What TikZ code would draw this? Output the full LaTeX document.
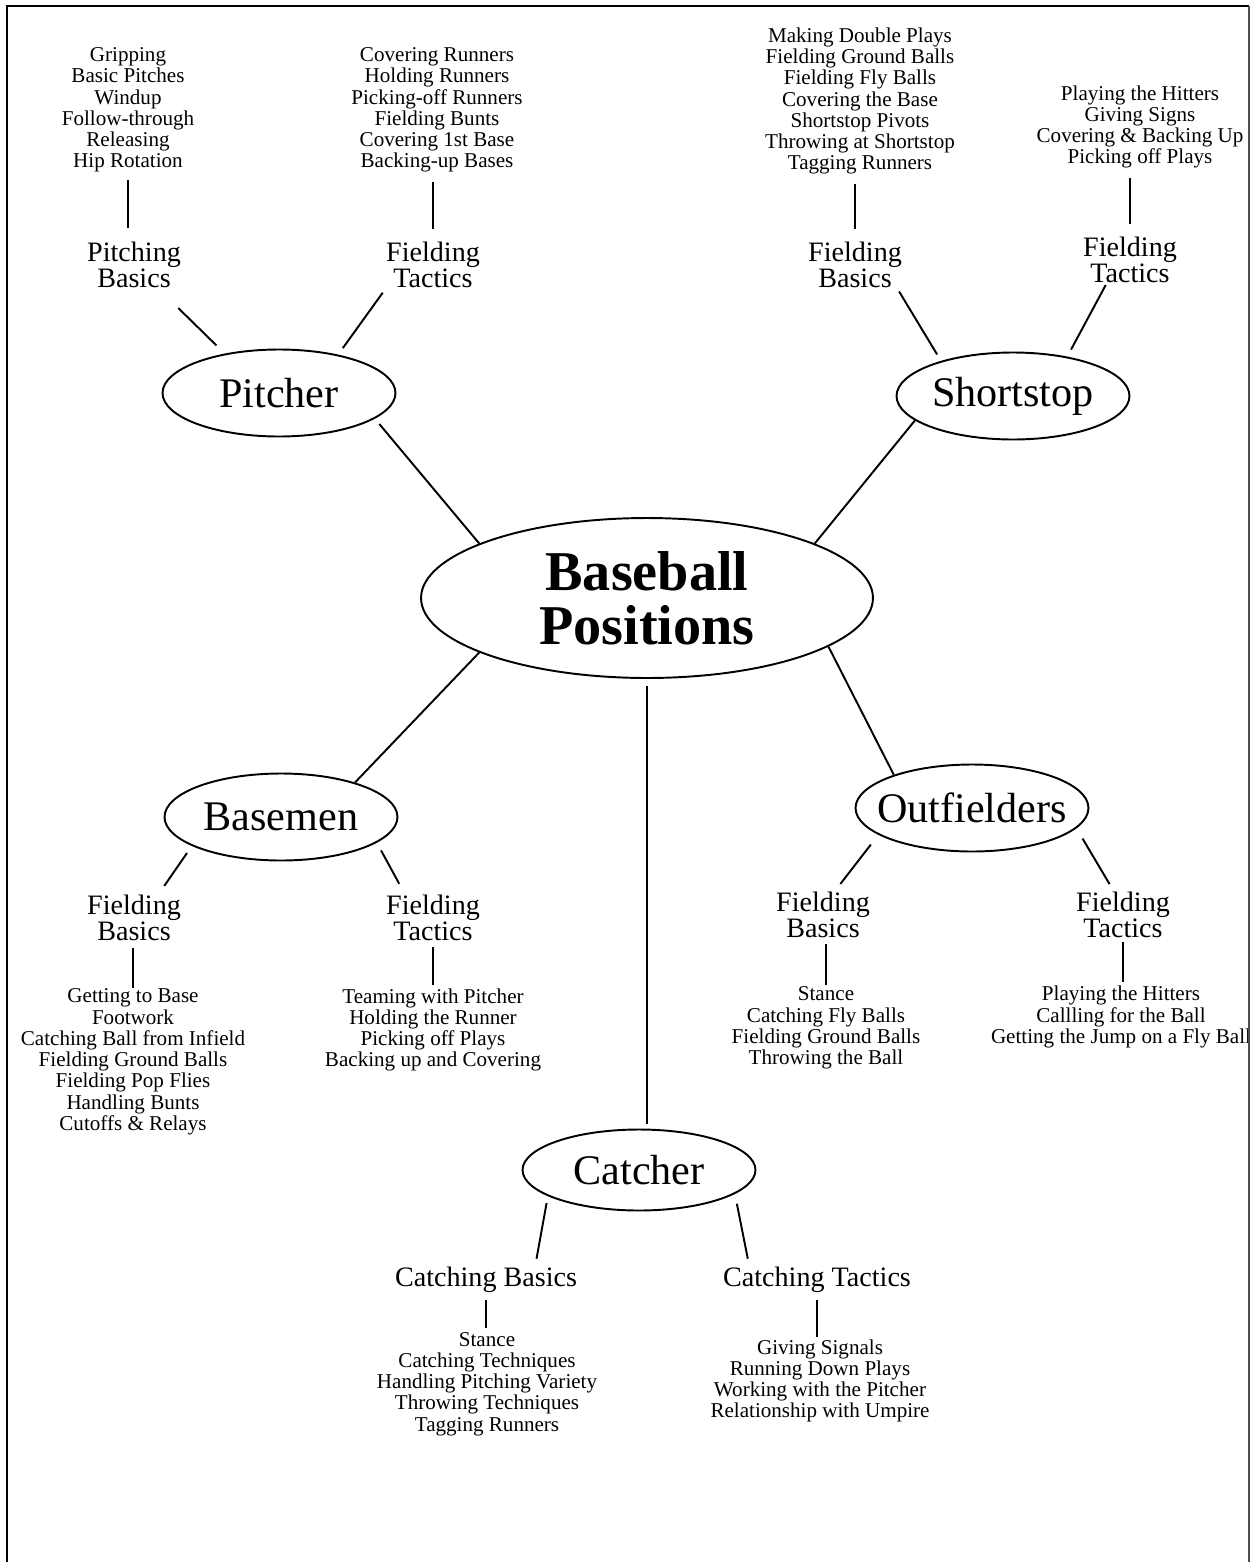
\documentclass[tikz,border=0pt]{standalone}
\usepackage{fontspec}
\setmainfont{Liberation Serif}
\usepackage{tikz}
\usetikzlibrary{shapes.geometric}

\begin{document}
\begin{tikzpicture}[x=0.02cm, y=-0.02cm,
    hub/.style={draw, ellipse, line width=1.1pt, minimum width=9.04cm, minimum height=3.2cm,
        inner sep=0pt, align=center, font=\bfseries\fontsize{32}{31}\selectfont},
    player/.style={draw, ellipse, line width=1.1pt, minimum width=4.66cm, minimum height=1.74cm,
        inner xsep=-0.35cm, inner ysep=0pt, font=\fontsize{24}{26}\selectfont},
    topic/.style={inner sep=0pt, align=center, font=\fontsize{16}{15}\selectfont},
    items/.style={inner sep=0pt, align=center, font=\fontsize{12}{12.1}\selectfont},
    link/.style={line width=1.1pt},
    stem/.style={line width=1.1pt}]
    \useasboundingbox (0,0) rectangle (1250,1562);
    \clip (0,0) rectangle (1250,1562);

    % Hub
    \node[hub] (hub) at (647,598) {Baseball\\Positions};

    % Positions
    \node[player] (pitcher) at (279,393) {Pitcher};
    \node[player] (shortstop) at (1013,396) {Shortstop};
    \node[player] (basemen) at (281,817) {Basemen};
    \node[player] (outfielders) at (972,808) {Outfielders};
    \node[player, minimum height=1.62cm] (catcher) at (639,1170) {Catcher};

    % Topics
    \node[topic] (pbasics) at (134,265) {Pitching\\Basics};
    \node[topic] (ptactics) at (433,265) {Fielding\\Tactics};
    \node[topic] (sbasics) at (855,265) {Fielding\\Basics};
    \node[topic] (stactics) at (1130,260) {Fielding\\Tactics};
    \node[topic] (bbasics) at (134,918) {Fielding\\Basics};
    \node[topic] (btactics) at (433,918) {Fielding\\Tactics};
    \node[topic] (obasics) at (823,915) {Fielding\\Basics};
    \node[topic] (otactics) at (1123,915) {Fielding\\Tactics};
    \node[topic] (cbasics) at (486,1280) {Catching Basics};
    \node[topic] (ctactics) at (817,1280) {Catching Tactics};

    % Item lists
    \node[items] (pblist) at (128,110) {Gripping\\Basic Pitches\\Windup\\Follow-through\\Releasing\\Hip Rotation};
    \node[items] (ptlist) at (437,110) {Covering Runners\\Holding Runners\\Picking-off Runners\\Fielding Bunts\\Covering 1st Base\\Backing-up Bases};
    \node[items] (sblist) at (860,101) {Making Double Plays\\Fielding Ground Balls\\Fielding Fly Balls\\Covering the Base\\Shortstop Pivots\\Throwing at Shortstop\\Tagging Runners};
    \node[items] (stlist) at (1140,127) {Playing the Hitters\\Giving Signs\\Covering \& Backing Up\\Picking off Plays};
    \node[items] (bblist) at (133,1062) {Getting to Base\\Footwork\\Catching Ball from Infield\\Fielding Ground Balls\\Fielding Pop Flies\\Handling Bunts\\Cutoffs \& Relays};
    \node[items] (btlist) at (433,1030) {Teaming with Pitcher\\Holding the Runner\\Picking off Plays\\Backing up and Covering};
    \node[items] (oblist) at (826,1028) {Stance\\Catching Fly Balls\\Fielding Ground Balls\\Throwing the Ball};
    \node[items] (otlist) at (1121,1017) {Playing the Hitters\\Callling for the Ball\\Getting the Jump on a Fly Ball};
    \node[items] (cblist) at (487,1384) {Stance\\Catching Techniques\\Handling Pitching Variety\\Throwing Techniques\\Tagging Runners};
    \node[items] (ctlist) at (820,1381) {Giving Signals\\Running Down Plays\\Working with the Pitcher\\Relationship with Umpire};

    % Hub to positions
    \draw[link, shorten >=4pt] (hub.162) -- (pitcher.-15);
    \draw[link] (hub.18) -- (shortstop.194);
    \draw[link] (hub.198) -- (basemen.25);
    \draw[link] (hub.-15) -- (outfielders.157);
    \draw[link, shorten <=4pt, shorten >=2.5pt] (hub.south) -- (hub.south |- catcher.north);

    % Positions to topics
    \draw[link, shorten <=6.6pt, shorten >=16pt] (pitcher.144) -- (pbasics.-44);
    \draw[link, shorten <=4.5pt, shorten >=3pt] (pitcher.33) -- (ptactics.south west);
    \draw[link, shorten <=4.3pt, shorten >=2pt] (shortstop.154) -- (sbasics.-29);
    \draw[link, shorten <=4.5pt, shorten >=1pt] (shortstop.36) -- (stactics.-135);
    \draw[link, shorten <=4.9pt, shorten >=6pt] (basemen.198) -- (bbasics.44);
    \draw[link, shorten <=5pt, shorten >=7pt] (basemen.-15) -- (btactics.140);
    \draw[link, shorten <=7pt, shorten >=5.5pt] (outfielders.196) -- (obasics.64);
    \draw[link, shorten <=6.8pt, shorten >=5pt] (outfielders.-11) -- (otactics.111);
    \draw[link, shorten <=4pt, shorten >=4.7pt] (catcher.196) -- (cbasics.15);
    \draw[link, shorten <=5.7pt, shorten >=4.7pt] (catcher.-14) -- (ctactics.169);

    % Topics to item lists
    \draw[stem, shorten <=4pt, shorten >=8pt] (pblist.south) -- (pblist.south |- pbasics.north);
    \draw[stem, shorten <=7pt, shorten >=5.5pt] (ptactics.north) -- (ptactics.north |- ptlist.south);
    \draw[stem, shorten <=7pt, shorten >=5pt] (sbasics.north) -- (sbasics.north |- sblist.south);
    \draw[stem, shorten <=7pt, shorten >=5pt] (stactics.north) -- (stactics.north |- stlist.south);
    \draw[stem, shorten <=0.5pt, shorten >=4pt] (bblist.north) -- (bblist.north |- bbasics.south);
    \draw[stem, shorten <=3pt, shorten >=2pt] (btactics.south) -- (btactics.south |- btlist.north);
    \draw[stem, shorten <=1pt, shorten >=3.4pt] (oblist.north) -- (oblist.north |- obasics.south);
    \draw[stem, shorten <=2pt, shorten >=2pt] (otactics.south) -- (otactics.south |- otlist.north);
    \draw[stem, shorten <=4pt, shorten >=2pt] (cbasics.south) -- (cbasics.south |- cblist.north);
    \draw[stem, shorten <=4pt, shorten >=1pt] (ctactics.south) -- (ctactics.south |- ctlist.north);

    % Frame
    \draw[line width=1.6pt] (7,1562) -- (7,6) -- (1249,6);
    \draw[line width=0.6pt, black!70] (1249,6) -- (1249,1562);
\end{tikzpicture}
\end{document}
